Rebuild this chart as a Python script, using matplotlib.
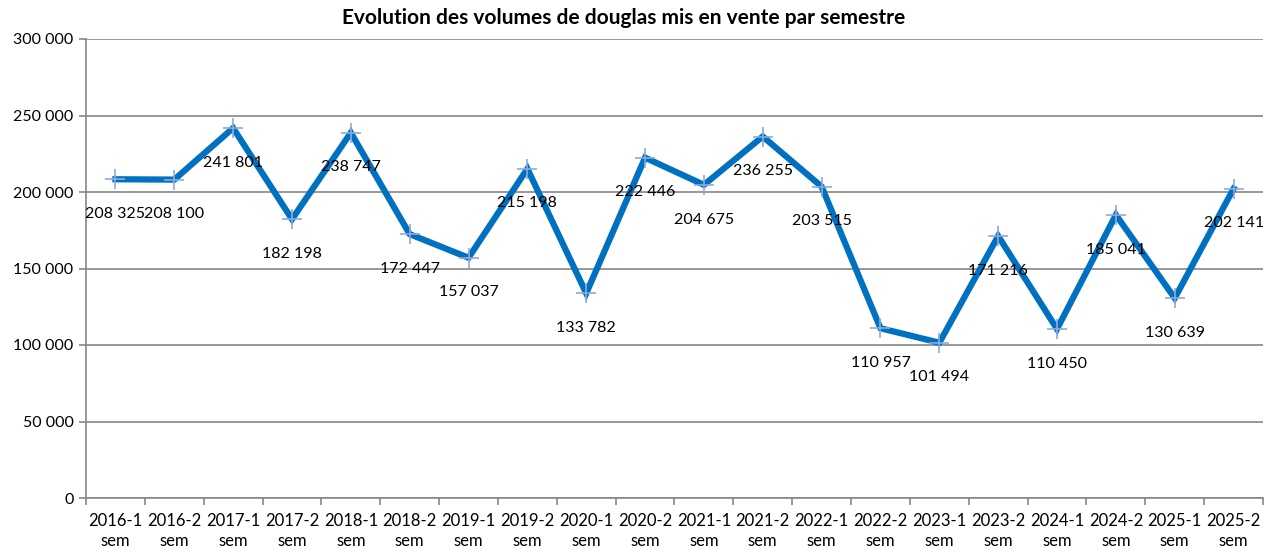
import matplotlib
matplotlib.use("Agg")
import matplotlib.pyplot as plt
from matplotlib.ticker import FixedLocator, FuncFormatter

plt.rcParams['font.family'] = ['Lato', 'DejaVu Sans']

categories = ["2016-1\nsem", "2016-2\nsem", "2017-1\nsem", "2017-2\nsem", "2018-1\nsem",
              "2018-2\nsem", "2019-1\nsem", "2019-2\nsem", "2020-1\nsem", "2020-2\nsem",
              "2021-1\nsem", "2021-2\nsem", "2022-1\nsem", "2022-2\nsem", "2023-1\nsem",
              "2023-2\nsem", "2024-1\nsem", "2024-2\nsem", "2025-1\nsem", "2025-2\nsem"]
volumes = [208325, 208100, 241801, 182198, 238747, 172447, 157037, 215198, 133782, 222446,
           204675, 236255, 203515, 110957, 101494, 171216, 110450, 185041, 130639, 202141]
title = "Evolution des volumes de douglas mis en vente par semestre"

def fmt(v):
    return f"{int(v):,}".replace(",", " ")

fig = plt.figure(figsize=(12.75, 5.57), dpi=100)
ax = fig.add_axes([86/1275, (557-498)/557, (1263-86)/1275, (498-39)/557])

x = list(range(len(volumes)))
ax.plot(x, volumes, color="#0070C0", linewidth=4.5, solid_joinstyle="miter", zorder=3)
ax.plot(x, volumes, linestyle="none", marker="+", markersize=15, markeredgewidth=1.2,
        color="#8EA9DB", zorder=4)

for xi, v in zip(x, volumes):
    ax.annotate(fmt(v), (xi, v), xytext=(0, -25), textcoords="offset points",
                ha="center", va="center", fontsize=11.5, color="black", zorder=5)

ax.set_xlim(-0.5, len(volumes) - 0.5)
ax.set_ylim(0, 300000)
ax.yaxis.set_major_locator(FixedLocator(range(0, 300001, 50000)))
ax.yaxis.set_major_formatter(FuncFormatter(lambda v, p: fmt(v)))
ax.grid(axis="y", color="#868686", linewidth=1.2, zorder=0)
ax.set_axisbelow(True)

ax.xaxis.set_major_locator(FixedLocator([i - 0.5 for i in range(len(volumes) + 1)]))
ax.xaxis.set_major_formatter(FuncFormatter(lambda v, p: ""))
ax.xaxis.set_minor_locator(FixedLocator(x))
ax.set_xticklabels(categories, minor=True, linespacing=1.3)
ax.tick_params(axis="x", which="major", length=5, color="#868686", width=1.2)
ax.tick_params(axis="x", which="minor", length=0, labelsize=12, pad=11)
ax.tick_params(axis="y", length=5, color="#868686", width=1.2, labelsize=11.5, pad=4)

for s in ["top", "right"]:
    ax.spines[s].set_visible(False)
for s in ["left", "bottom"]:
    ax.spines[s].set_color("#868686")
    ax.spines[s].set_linewidth(1.2)

fig.text(624/1275, 1 - 18/557, title, ha="center", va="center", fontsize=15, fontweight="bold")

fig.savefig("out.png", dpi=100, facecolor="white")
